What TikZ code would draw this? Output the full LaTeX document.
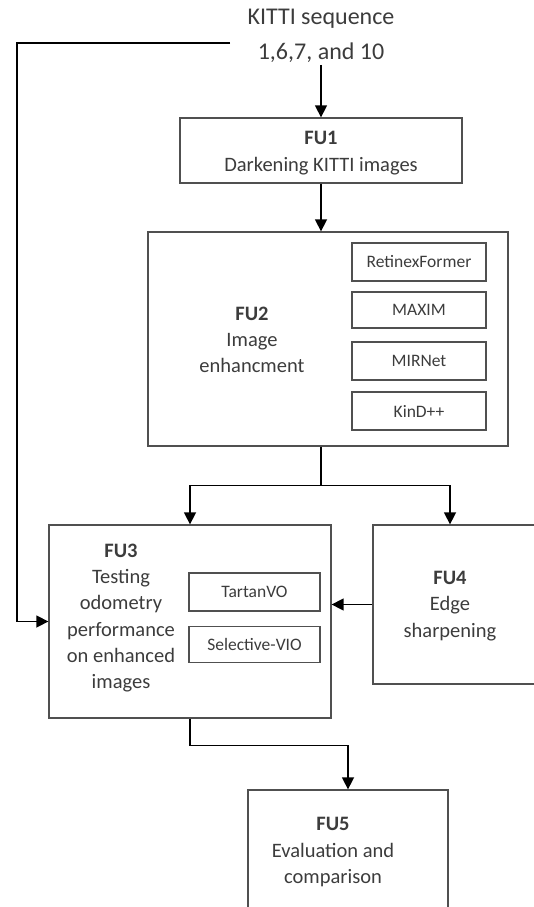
\documentclass[tikz,border=0pt]{standalone}
\usepackage{fontspec}
\setmainfont{Carlito}
\usetikzlibrary{arrows.meta}
\definecolor{txt}{HTML}{3C3C3C}
\definecolor{boxc}{HTML}{505050}
\begin{document}
\begin{tikzpicture}[x=1pt,y=-1pt,
  box/.style={draw=boxc,line width=1.3pt,minimum width=#1,inner sep=0pt},
  sub/.style={draw=boxc,line width=1.3pt,inner sep=0pt,text=txt,
    font=\fontsize{17.5}{21}\selectfont},
  lbl/.style={align=center,text=txt,inner sep=0pt,
    font=\fontsize{20.5}{26.3}\selectfont},
  arr/.style={draw=black,line width=1.5pt,-{Triangle[length=12pt,width=12pt]}},
  ln/.style={draw=black,line width=1.5pt}]
\useasboundingbox (0,0) rectangle (534,907);
\clip (0,0) rectangle (534,907);
% top text
\node[align=center,text=txt,inner sep=2pt,font=\fontsize{24}{35}\selectfont] (kitti) at (321,36) {KITTI sequence\\1,6,7, and 10};
\coordinate (k1) at (230,43);
\coordinate (lft) at (17,43);
% FU1
\node[box=282pt,minimum height=65pt] (fu1) at (321,150.5) {};
\node[lbl] (fu1t) at (321,153) {\textbf{FU1}\\Darkening KITTI images};
% FU2
\node[box=360pt,minimum height=214pt] (fu2) at (328,339) {};
\node[lbl] (fu2t) at (252,340) {\textbf{FU2}\\Image\\enhancment};
\node[sub,minimum width=134pt,minimum height=38pt] (s1) at (419,262) {RetinexFormer};
\node[sub,minimum width=134pt,minimum height=36pt] (s2) at (419,310) {MAXIM};
\node[sub,minimum width=134pt,minimum height=38pt] (s3) at (419,361) {MIRNet};
\node[sub,minimum width=134pt,minimum height=38pt] (s4) at (419,411) {KinD++};
% FU3
\node[box=282pt,minimum height=193pt] (fu3) at (190,621.5) {};
\node[lbl] (fu3t) at (121,618) {\textbf{FU3}\\Testing\\odometry\\performance\\on enhanced\\images};
\node[sub,minimum width=131pt,minimum height=38pt] (t1) at (254.5,592) {TartanVO};
\node[sub,minimum width=131pt,minimum height=36pt] (t2) at (254.5,644.5) {Selective-VIO};
% FU4
\node[box=187pt,minimum height=159pt] (fu4) at (466.5,604.5) {};
\node[lbl] (fu4t) at (450,606) {\textbf{FU4}\\Edge\\sharpening};
% FU5
\node[box=200pt,minimum height=140pt] (fu5) at (348,860) {};
\node[lbl] (fu5t) at (333,852) {\textbf{FU5}\\Evaluation and\\comparison};
% connectors
\draw[arr] (kitti.south) -- (fu1.north);
\draw[arr] (k1) -- (lft) |- (fu3.west);
\draw[arr] (fu1.south) -- (fu1.south |- fu2.north);
\coordinate (split) at ([yshift=-39pt]fu1.south |- fu2.south);
\draw[ln] (fu1.south |- fu2.south) -- (split);
\draw[arr] (split) -| (fu3.north);
\draw[arr] (split) -| (fu4t |- fu4.north);
\draw[arr] (fu4.west) -- (fu4.west -| fu3.east);
\draw[arr] (fu3.south) -- ++(0,27) -| (fu5.north);
\end{tikzpicture}
\end{document}
